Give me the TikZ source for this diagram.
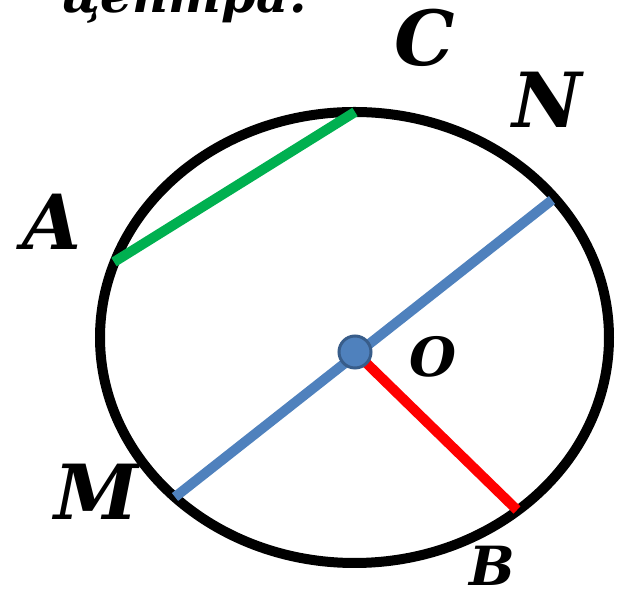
\documentclass[tikz,border=0pt]{standalone}
\usepackage{fontspec}
\setmainfont{DejaVu Serif}
\usetikzlibrary{positioning}
\definecolor{diamblue}{HTML}{4F81BD}
\definecolor{dotedge}{HTML}{385D8A}
\definecolor{chordgreen}{HTML}{00B050}

\begin{document}
\begin{tikzpicture}[x=0.5pt,y=-0.5pt]
      \tikzset{
        big label/.style={font=\fontsize{38}{40}\selectfont\bfseries\itshape, inner sep=0pt},
        small label/.style={font=\fontsize{27}{30}\selectfont\bfseries\itshape, inner sep=0pt},
        segment/.style={line width=5pt}
      }
      \useasboundingbox (0,0) rectangle (617,592);
      \clip (0,0) rectangle (617,592);

      \def\rx{254.5} % horizontal radius
      \def\ry{225.5} % vertical radius
      \coordinate (E) at (354.5,337.5); % ellipse centre
      \coordinate (O) at (355,352);
      \coordinate (A) at (114,262);
      \coordinate (C) at (355,112);
      \coordinate (M) at (175,497);
      \coordinate (N) at (552,200);
      \coordinate (B) at (517,510);

      \node[anchor=base west, font=\fontsize{25}{27}\selectfont\bfseries\itshape, inner sep=0pt] (title) at (60,13) {центра.};

      \draw[line width=5pt] (E) ellipse [x radius=\rx, y radius=\ry];

      % Segments
      \draw[segment, chordgreen] (A) -- (C); % chord
      \draw[segment, diamblue] (M) -- (N); % diameter
      \draw[segment, red] (O) -- (B); % radius
      \filldraw[fill=diamblue, draw=dotedge, line width=1.5pt] (O) circle (16);

      % Labels
      \node[big label] (lC) at (425,38) {C};
      \node[big label] (lN) at (547,100) {N};
      \node[big label] (lA) at (52,222) {A};
      \node[big label] (lM) at (97,492) {M};
      \node[small label] (lO) at (433,357) {O};
      \node[small label] (lB) at (492,566) {B};
\end{tikzpicture}
\end{document}
